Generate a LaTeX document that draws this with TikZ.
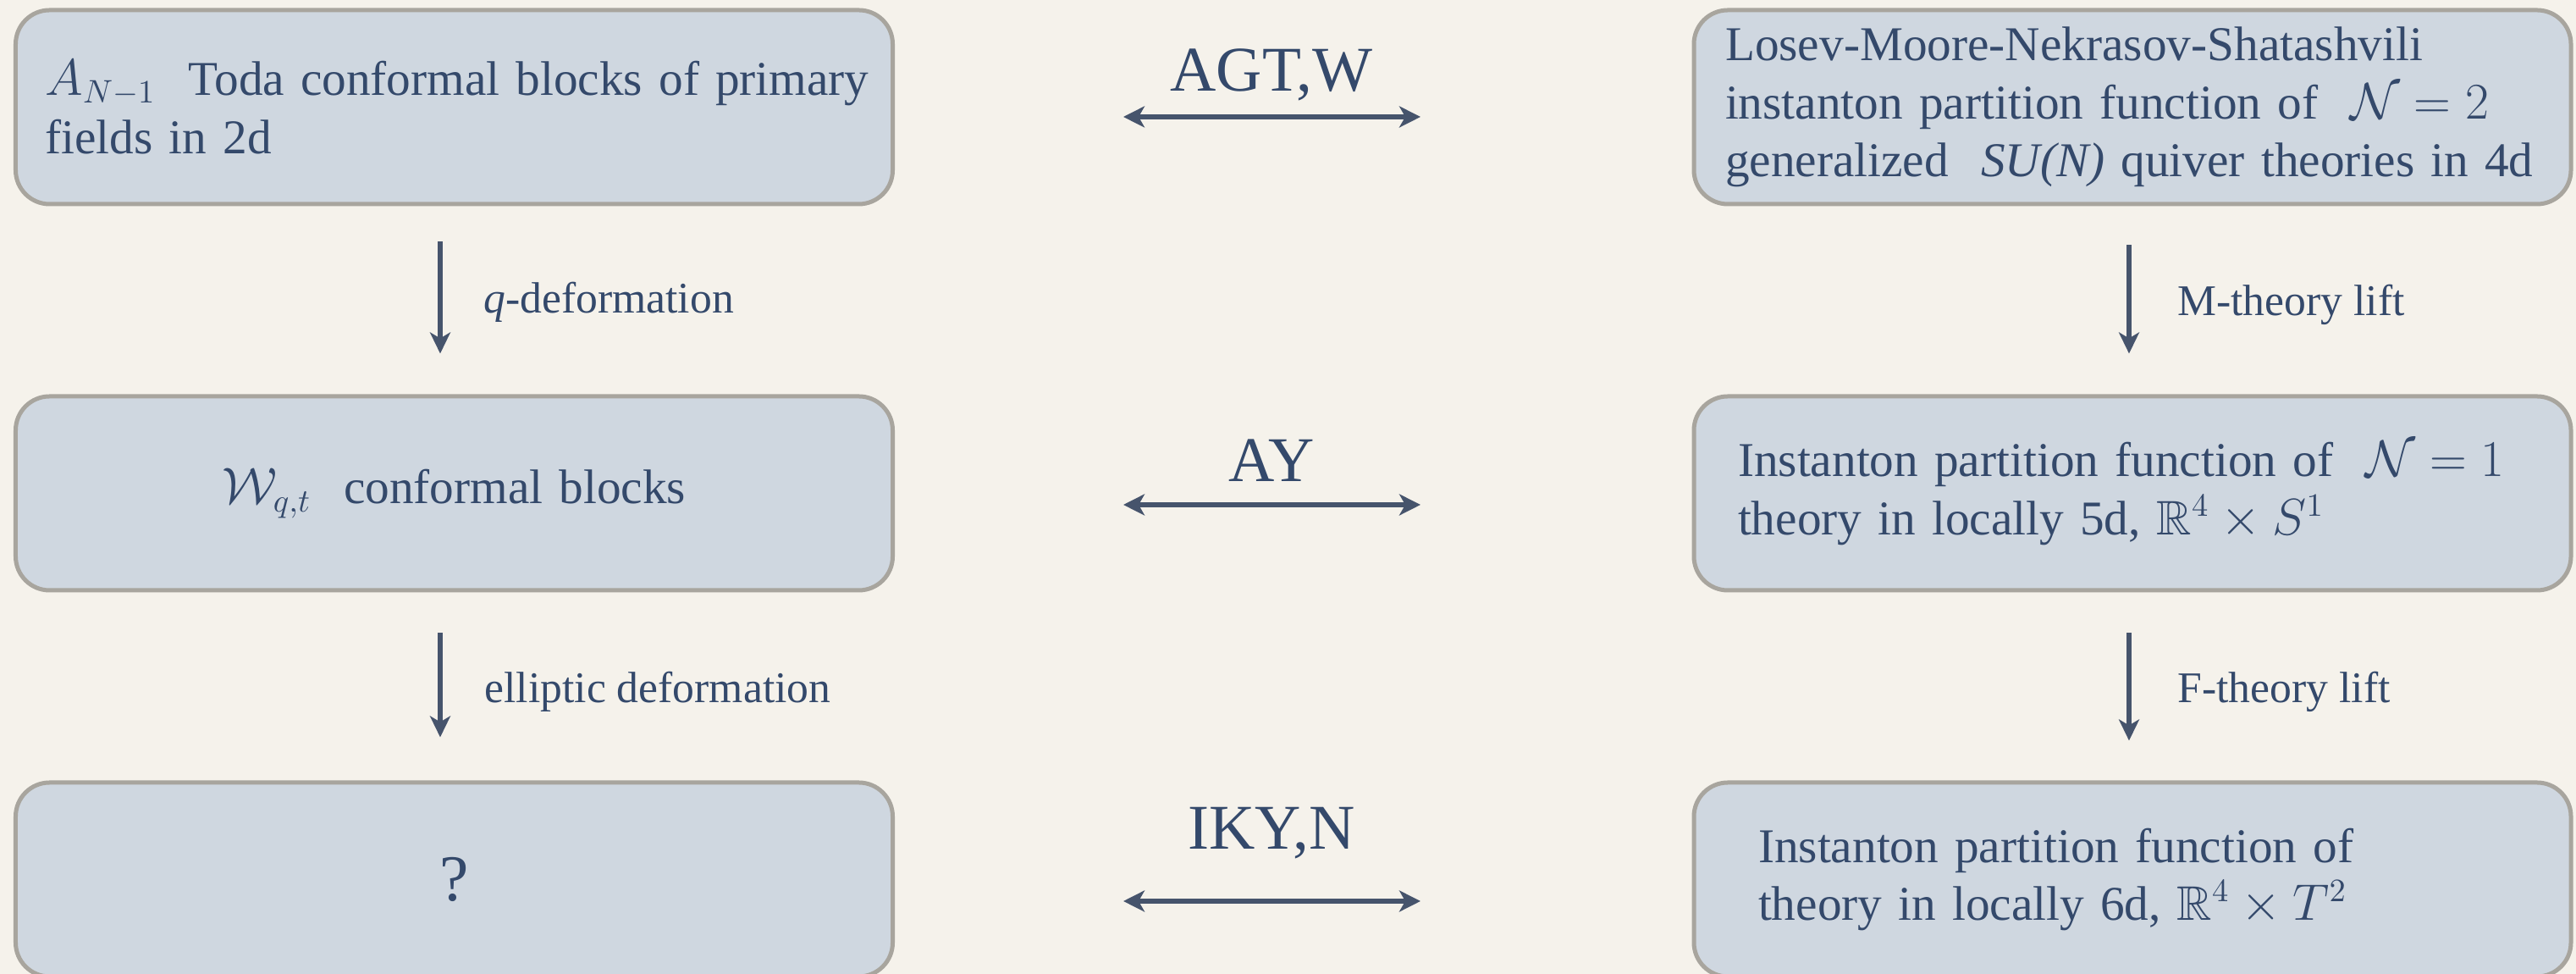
\documentclass[tikz,border=0pt]{standalone}
\usepackage{amsmath}
\usepackage{amssymb}
\usepackage{fontspec}
\setmainfont{Liberation Serif}
\usepackage{tikz}
\usetikzlibrary{arrows.meta}

\definecolor{paper}{HTML}{F5F2EB}
\definecolor{boxfill}{HTML}{CFD7E0}
\definecolor{boxline}{HTML}{A8A59E}
\definecolor{inkblue}{HTML}{34496B}
\definecolor{arrowgrey}{HTML}{46546C}

\begin{document}
\begin{tikzpicture}[
    block/.style={draw=boxline, line width=0.5mm, fill=boxfill, rounded corners=0.4cm,
        minimum width=10.36cm, minimum height=2.29cm, text=inkblue,
        font=\fontsize{16.3}{19.4}\selectfont},
    link/.style={arrowgrey, line width=1.56pt,
        {Stealth[length=0.25cm,width=0.25cm,inset=0.07cm]}-{Stealth[length=0.25cm,width=0.25cm,inset=0.07cm]}},
    move/.style={arrowgrey, line width=1.56pt, -{Stealth[length=0.25cm,width=0.24cm,inset=0.07cm]}},
    duallabel/.style={text=inkblue, anchor=base, font=\fontsize{21.4}{25}\selectfont},
    liftlabel/.style={text=inkblue, anchor=base west, font=\fontsize{14.7}{17}\selectfont}]

    % Paper and size of the slide
    \fill[paper] (0,0) rectangle (30.43,11.5);
    \useasboundingbox (0,0) rectangle (30.43,11.5);

    % Left column: conformal blocks in 2d
    \node[block, inner xsep=0.35cm, text width=9.66cm, align=left] (toda) at (5.365,10.235)
        {\mbox{$A_{N-1}$\ \ Toda conformal blocks of primary}\\fields in 2d};
    \node[block, inner xsep=0.35cm, text width=9.66cm, align=center] (wqt) at (5.365,5.675)
        {$\mathcal{W}_{q,t}$\ \ conformal blocks};
    \node[block, inner xsep=0.35cm, text width=9.66cm, align=center] (unknown) at (5.365,1.115)
        {\fontsize{22}{25}\selectfont ?};

    % Right column: instanton partition functions
    \node[block, inner xsep=0.37cm, text width=9.62cm, align=left] (lmns) at (25.19,10.235)
        {Losev-Moore-Nekrasov-Shatashvili\\instanton partition function of\ \ $\mathcal{N}=2$\\\mbox{generalized\ \ \textit{SU(N)} quiver theories in 4d}};
    \node[block, inner xsep=0.52cm, text width=9.32cm, align=left] (inst5) at (25.19,5.675)
        {\mbox{Instanton partition function of\ \ $\mathcal{N}=1$}\\theory in locally 5d, $\mathbb{R}^4\times S^1$};
    \node[block, inner xsep=0.76cm, text width=8.84cm, align=left] (inst6) at (25.19,1.115)
        {Instanton partition function of\\theory in locally 6d, $\mathbb{R}^4\times T^2$};

    % Dualities between the two columns
    \foreach \name/\y/\ty/\tag in {agt/10.12/10.42/{AGT,W}, ay/5.54/5.81/{AY}, iky/0.86/1.47/{IKY,N}} {
        \coordinate (\name-l) at (13.27,\y);
        \coordinate (\name-r) at (16.78,\y);
        \draw[link] (\name-l) -- (\name-r);
        \node[duallabel] (\name-tag) at (15.02,\ty) {\tag};
    }

    % Deformations down the left column
    \draw[move, shorten <=0.42cm, shorten >=0.48cm] ([xshift=-1.65mm]toda.south) -- ([xshift=-1.65mm]wqt.north);
    \draw[move, shorten <=0.48cm, shorten >=0.51cm] ([xshift=-1.65mm]wqt.south) -- ([xshift=-1.65mm]unknown.north);
    \node[liftlabel] (qdef) at (5.59,7.80) {\textit{q}-deformation};
    \node[liftlabel] (edef) at (5.60,3.20) {elliptic deformation};

    % Lifts down the right column
    \draw[move, shorten <=0.46cm, shorten >=0.48cm] ([xshift=-0.4mm]lmns.south) -- ([xshift=-0.4mm]inst5.north);
    \draw[move, shorten <=0.48cm, shorten >=0.47cm] ([xshift=-0.4mm]inst5.south) -- ([xshift=-0.4mm]inst6.north);
    \node[liftlabel] (mlift) at (25.60,7.77) {M-theory lift};
    \node[liftlabel] (flift) at (25.60,3.20) {F-theory lift};
\end{tikzpicture}
\end{document}
